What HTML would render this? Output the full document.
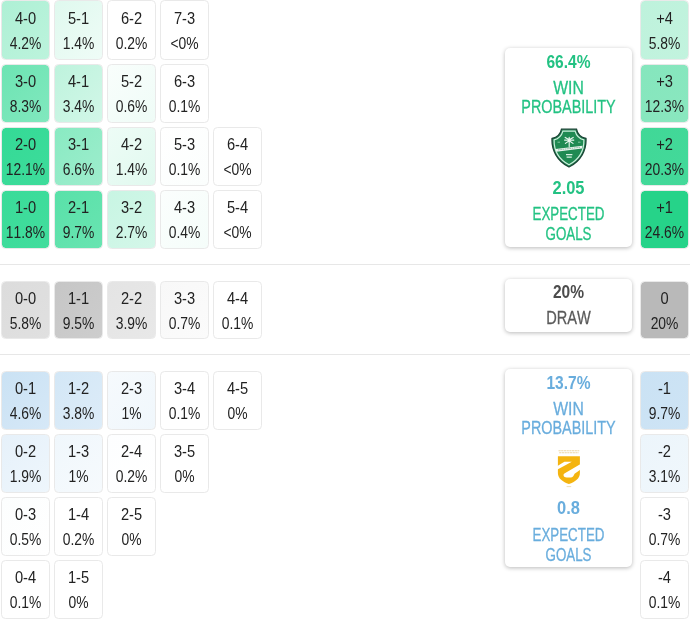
<!DOCTYPE html>
<html lang="en"><head><meta charset="utf-8"><title>Score matrix</title>
<style>
html,body{margin:0;padding:0;background:#fff;}
body{width:690px;height:620px;position:relative;overflow:hidden;font-family:"Liberation Sans",sans-serif;color:#222;font-kerning:none;}
.c{position:absolute;box-sizing:border-box;width:49px;height:59px;border:1px solid #e9e9e9;border-radius:4.5px;background-clip:padding-box !important;text-align:center;}
.c .t{display:block;position:absolute;left:-10.5px;right:-9.5px;font-size:17.4px;line-height:20px;transform:scaleX(.843);white-space:nowrap;}
.c .t:nth-child(1){top:6.4px;}
.c .t:nth-child(2){top:31.4px;transform:scaleX(.797);}
.c.r1 .t{margin-top:1px;}
.hr{position:absolute;left:0;width:690px;height:1px;background:#e7e7e7;}
.p{position:absolute;left:505px;width:127px;box-sizing:border-box;background:#fff;border-radius:5px;box-shadow:0 1px 4px rgba(0,0,0,.28);text-align:center;}
.p span{position:absolute;left:-19.6px;right:-20.4px;display:block;white-space:nowrap;font-size:19.2px;line-height:22px;transform:scaleX(.76);-webkit-text-stroke:0.3px currentColor;}
.p b{font-weight:bold;-webkit-text-stroke:0;}
.g span{color:#23c283;}
.b span{color:#69addd;}
.d span{color:#5a5a5a;}
.logo{position:absolute;}
</style></head><body>
<div class="c r1" style="left:1.0px;top:0px;height:60px;background:linear-gradient(135deg,#aef0d5,#bcf3dc);"><span class="t">4-0</span><span class="t">4.2%</span></div>
<div class="c r1" style="left:54.0px;top:0px;height:60px;background:linear-gradient(135deg,#dff9ee,#effcf7);"><span class="t">5-1</span><span class="t">1.4%</span></div>
<div class="c r1" style="left:107.0px;top:0px;height:60px;background:#fff;"><span class="t">6-2</span><span class="t">0.2%</span></div>
<div class="c r1" style="left:160.0px;top:0px;height:60px;background:#fff;"><span class="t">7-3</span><span class="t">&lt;0%</span></div>
<div class="c" style="left:1.0px;top:64.0px;background:linear-gradient(135deg,#6de4b3,#81e8be);"><span class="t">3-0</span><span class="t">8.3%</span></div>
<div class="c" style="left:54.0px;top:64.0px;background:linear-gradient(135deg,#bef3dd,#d2f7e8);"><span class="t">4-1</span><span class="t">3.4%</span></div>
<div class="c" style="left:107.0px;top:64.0px;background:linear-gradient(135deg,#f9fefc,#effcf7);"><span class="t">5-2</span><span class="t">0.6%</span></div>
<div class="c" style="left:160.0px;top:64.0px;background:#fff;"><span class="t">6-3</span><span class="t">0.1%</span></div>
<div class="c" style="left:1.0px;top:127.0px;background:linear-gradient(135deg,#34da96,#3edc9b);"><span class="t">2-0</span><span class="t">12.1%</span></div>
<div class="c" style="left:54.0px;top:127.0px;background:linear-gradient(135deg,#89eac2,#9eedcd);"><span class="t">3-1</span><span class="t">6.6%</span></div>
<div class="c" style="left:107.0px;top:127.0px;background:linear-gradient(135deg,#edfcf6,#e1f9ef);"><span class="t">4-2</span><span class="t">1.4%</span></div>
<div class="c" style="left:160.0px;top:127.0px;background:linear-gradient(135deg,#ffffff,#fbfefd);"><span class="t">5-3</span><span class="t">0.1%</span></div>
<div class="c" style="left:213.0px;top:127.0px;background:#fff;"><span class="t">6-4</span><span class="t">&lt;0%</span></div>
<div class="c" style="left:1.0px;top:190.0px;background:linear-gradient(135deg,#3adb99,#42dd9d);"><span class="t">1-0</span><span class="t">11.8%</span></div>
<div class="c" style="left:54.0px;top:190.0px;background:linear-gradient(135deg,#59e1a9,#69e4b1);"><span class="t">2-1</span><span class="t">9.7%</span></div>
<div class="c" style="left:107.0px;top:190.0px;background:linear-gradient(135deg,#c8f5e3,#d4f7e9);"><span class="t">3-2</span><span class="t">2.7%</span></div>
<div class="c" style="left:160.0px;top:190.0px;background:linear-gradient(135deg,#fbfefd,#f5fdfa);"><span class="t">4-3</span><span class="t">0.4%</span></div>
<div class="c" style="left:213.0px;top:190.0px;background:#fff;"><span class="t">5-4</span><span class="t">&lt;0%</span></div>
<div class="c" style="left:1.0px;top:280.5px;background:linear-gradient(135deg,#dcdcdc,#e0e0e0);height:58px;"><span class="t">0-0</span><span class="t">5.8%</span></div>
<div class="c" style="left:54.0px;top:280.5px;background:linear-gradient(135deg,#c6c6c6,#cdcdcd);height:58px;"><span class="t">1-1</span><span class="t">9.5%</span></div>
<div class="c" style="left:107.0px;top:280.5px;background:linear-gradient(135deg,#e4e4e4,#e8e8e8);height:58px;"><span class="t">2-2</span><span class="t">3.9%</span></div>
<div class="c" style="left:160.0px;top:280.5px;background:linear-gradient(135deg,#f8f8f8,#fbfbfb);height:58px;"><span class="t">3-3</span><span class="t">0.7%</span></div>
<div class="c" style="left:213.0px;top:280.5px;background:linear-gradient(135deg,#ffffff,#ffffff);height:58px;"><span class="t">4-4</span><span class="t">0.1%</span></div>
<div class="c" style="left:1.0px;top:370.6px;background:linear-gradient(135deg,#cae2f4,#d6e8f7);height:59px;"><span class="t">0-1</span><span class="t">4.6%</span></div>
<div class="c" style="left:54.0px;top:370.6px;background:linear-gradient(135deg,#d3e7f6,#ddecf8);height:59px;"><span class="t">1-2</span><span class="t">3.8%</span></div>
<div class="c" style="left:107.0px;top:370.6px;background:linear-gradient(135deg,#f6fafd,#f0f7fc);height:59px;"><span class="t">2-3</span><span class="t">1%</span></div>
<div class="c" style="left:160.0px;top:370.6px;background:#fff;height:59px;"><span class="t">3-4</span><span class="t">0.1%</span></div>
<div class="c" style="left:213.0px;top:370.6px;background:#fff;height:59px;"><span class="t">4-5</span><span class="t">0%</span></div>
<div class="c" style="left:1.0px;top:433.6px;background:linear-gradient(135deg,#e6f1fa,#eef6fc);height:59px;"><span class="t">0-2</span><span class="t">1.9%</span></div>
<div class="c" style="left:54.0px;top:433.6px;background:linear-gradient(135deg,#f0f7fc,#f6fafd);height:59px;"><span class="t">1-3</span><span class="t">1%</span></div>
<div class="c" style="left:107.0px;top:433.6px;background:linear-gradient(135deg,#fdfeff,#ffffff);height:59px;"><span class="t">2-4</span><span class="t">0.2%</span></div>
<div class="c" style="left:160.0px;top:433.6px;background:#fff;height:59px;"><span class="t">3-5</span><span class="t">0%</span></div>
<div class="c" style="left:1.0px;top:496.6px;background:linear-gradient(135deg,#fcfefe,#ffffff);height:59px;"><span class="t">0-3</span><span class="t">0.5%</span></div>
<div class="c" style="left:54.0px;top:496.6px;background:#fff;height:59px;"><span class="t">1-4</span><span class="t">0.2%</span></div>
<div class="c" style="left:107.0px;top:496.6px;background:#fff;height:59px;"><span class="t">2-5</span><span class="t">0%</span></div>
<div class="c" style="left:1.0px;top:559.6px;background:#fff;height:59px;"><span class="t">0-4</span><span class="t">0.1%</span></div>
<div class="c" style="left:54.0px;top:559.6px;background:#fff;height:59px;"><span class="t">1-5</span><span class="t">0%</span></div>
<div class="c r1" style="left:640.0px;top:0px;height:60px;background:linear-gradient(135deg,#bef2dc,#c2f3de);"><span class="t">+4</span><span class="t">5.8%</span></div>
<div class="c" style="left:640.0px;top:64.0px;background:linear-gradient(135deg,#85e6bd,#8ae7bf);"><span class="t">+3</span><span class="t">12.3%</span></div>
<div class="c" style="left:640.0px;top:127.0px;background:linear-gradient(135deg,#40d897,#44d99a);"><span class="t">+2</span><span class="t">20.3%</span></div>
<div class="c" style="left:640.0px;top:190.0px;background:linear-gradient(135deg,#26d389,#26d389);"><span class="t">+1</span><span class="t">24.6%</span></div>
<div class="c" style="left:640.0px;top:280.5px;background:#b9b9b9;height:58px;"><span class="t">0</span><span class="t">20%</span></div>
<div class="c" style="left:640.0px;top:370.6px;background:linear-gradient(135deg,#cae2f4,#cee4f5);height:59px;"><span class="t">-1</span><span class="t">9.7%</span></div>
<div class="c" style="left:640.0px;top:433.6px;background:linear-gradient(135deg,#ecf5fb,#f0f7fc);height:59px;"><span class="t">-2</span><span class="t">3.1%</span></div>
<div class="c" style="left:640.0px;top:496.6px;background:#fff;height:59px;"><span class="t">-3</span><span class="t">0.7%</span></div>
<div class="c" style="left:640.0px;top:559.6px;background:#fff;height:59px;"><span class="t">-4</span><span class="t">0.1%</span></div>
<div class="hr" style="top:264px"></div>
<div class="hr" style="top:354.2px"></div>
<div class="p g" style="top:48px;height:199px">
<span style="top:2.5px;transform:scaleX(.81)"><b>66.4%</b></span>
<span style="top:28.5px;transform:scaleX(.82)">WIN</span>
<span style="top:48px;transform:scaleX(.75)">PROBABILITY</span>
<span style="top:128.500px;transform:scaleX(.857)"><b>2.05</b></span>
<span style="top:155px;transform:scaleX(.695)">EXPECTED</span>
<span style="top:174.500px;transform:scaleX(.695)">GOALS</span>
</div>
<div class="p d" style="top:278.5px;height:53.5px">
<span style="top:2.500px;transform:scaleX(.81);color:#4c4c4c"><b>20%</b></span>
<span style="top:28px">DRAW</span>
</div>
<div class="p b" style="top:369.3px;height:198px">
<span style="top:2.500px;transform:scaleX(.81)"><b>13.7%</b></span>
<span style="top:28.500px;transform:scaleX(.82)">WIN</span>
<span style="top:48px;transform:scaleX(.75)">PROBABILITY</span>
<span style="top:128px;transform:scaleX(.857)"><b>0.8</b></span>
<span style="top:155px;transform:scaleX(.695)">EXPECTED</span>
<span style="top:174.500px;transform:scaleX(.695)">GOALS</span>
</div>
<svg class="logo" style="left:551px;top:127.5px" width="36" height="40" viewBox="0 0 36 40">
<path d="M10.5 1.2 H25.5 C26.5 6.5 30 9.5 35 10.5 C35.5 22 30 33 18 39 C6 33 0.5 22 1 10.5 C6 9.5 9.5 6.5 10.5 1.2 Z" fill="#1f8a52" stroke="#1c4436" stroke-width="1.3"/>
<path d="M11.9 3.1 H24.1 C25.3 7.6 28.6 10.7 32.9 11.9 C33.1 21.5 28.5 31.1 18 36.7 C7.5 31.1 2.9 21.5 3.1 11.9 C7.4 10.7 10.7 7.6 11.9 3.1 Z" fill="none" stroke="#cdeedd" stroke-width="1.2"/>
<path d="M4.6 21.0 L31.4 17.8 L31.0 20.5 L5.3 23.7 Z" fill="#e9f3ee"/>
<path d="M7 21.9 L29 19.3" stroke="#8fb7a3" stroke-width="0.9" stroke-dasharray="1.6 0.7"/>
<path d="M18.2 9.4 V18.6 M18.2 11.8 L14.2 9.4 M18.2 11.8 L22.2 9.4 M18.2 12.3 L13.6 12.1 M18.2 12.3 L22.8 12.1 M18.2 12.7 L14.4 15.4 M18.2 12.7 L22 15.4" stroke="#eaf7f0" stroke-width="1.15" fill="none" stroke-linecap="round"/>
<path d="M15 26.6 H21.4 M15.6 29.2 H20.8" stroke="#d8f0e2" stroke-width="1.2"/>
<path d="M6.5 14.2 H9 M27 14.2 H29.5" stroke="#9ad4b4" stroke-width="0.8"/>
</svg>
<svg class="logo" style="left:556px;top:448px" width="26" height="42" viewBox="0 0 26 42">
<path d="M1.9 8.2 H23.9 V25 C23.9 30.5 19 34 12.9 36.1 C6.8 34 1.9 30.5 1.9 25 Z" fill="#f4b410"/>
<path d="M1 18.3 L8.4 13.8 H15.8 L1 21.7 Z" fill="#fff"/>
<path d="M24.6 15.9 L8.4 25.6 C7 26.6 7.4 28.2 8.6 28.9 C9.6 29.5 11 29.6 14.8 29.6 C16.6 29.6 17.6 27.6 18.6 25.7 L24.6 21.6 Z" fill="#fff"/>
<path d="M2.5 2.7 H23.3 M3.2 4.7 H22.6" stroke="#ecd6a6" stroke-width="1.1" stroke-dasharray="2.2 0.5"/>
<path d="M10.6 38.6 H15.2" stroke="#efe0b8" stroke-width="1"/>
</svg>
</body></html>
